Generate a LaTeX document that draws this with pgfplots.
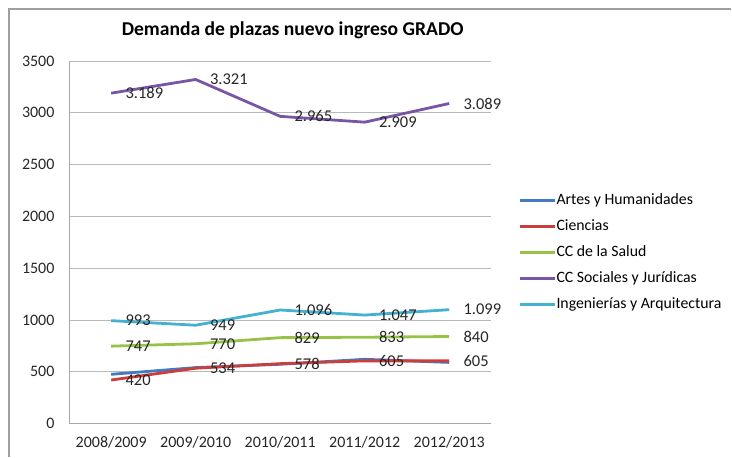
\documentclass[border=0pt]{standalone}
\usepackage{fontspec}
\setmainfont{Carlito}
\usepackage{pgfplots}
\pgfplotsset{compat=1.18}
\definecolor{cBlue}{RGB}{66,122,196}
\definecolor{cRed}{RGB}{204,62,60}
\definecolor{cGreen}{RGB}{150,195,70}
\definecolor{cPurple}{RGB}{120,86,165}
\definecolor{cCyan}{RGB}{68,176,210}
\begin{document}
\begin{tikzpicture}[x=1pt,y=1pt]
\path (0,0) rectangle (732,457);
\draw[gray!75, line width=1.6pt] (9,0) -- (9,448) -- (732,448);
\node[font=\fontsize{19.6}{23}\selectfont\bfseries] at (293,427) {Demanda de plazas nuevo ingreso GRADO};
\begin{axis}[
  at={(69pt,33pt)}, anchor=south west,
  width=423pt, height=363pt, scale only axis,
  xmin=-0.5, xmax=4.5, ymin=0, ymax=3500,
  axis x line=bottom, axis y line=left,
  axis line style={gray!70, line width=0.8pt, -},
  xtick={0,1,2,3,4},
  xticklabels={2008/2009,2009/2010,2010/2011,2011/2012,2012/2013},
  ytick={0,500,1000,1500,2000,2500,3000,3500},
  major tick length=0pt,
  ymajorgrids, grid style={gray!55, line width=0.7pt},
  /pgf/number format/assume math mode=true,
  /pgf/number format/1000 sep={},
  ticklabel style={font=\fontsize{16}{19}\selectfont, text=black!85},
  yticklabel style={xshift=-11pt},
  xticklabel style={yshift=-9pt},
  clip=false,
  every axis plot/.append style={line width=2.8pt},
  nodes near coords,
  point meta=explicit symbolic,
  every node near coord/.append style={anchor=west, inner sep=0pt, xshift=13pt, yshift=0pt, font=\fontsize{16.5}{19}\selectfont, text=black!85},
  legend style={at={(1.057,0.471)}, anchor=west, draw=none, fill=none,
    font=\fontsize{15.8}{18}\selectfont, row sep=12pt,
    nodes={inner sep=0pt, text height=10.5pt, text depth=3.5pt}},
  legend cell align=left,
  /tikz/every even column/.append style={column sep=2pt},
  legend image code/.code={\draw[#1, line width=2.8pt] (0pt,0pt) -- (35pt,0pt);},
]
\addplot[cBlue, nodes near coords={}] coordinates {(0,475) (1,540) (2,572) (3,620) (4,590)};
\addlegendentry{Artes y Humanidades}
\addplot[cRed] coordinates {(0,420)[420] (1,534)[534] (2,578)[578] (3,605)[605] (4,605)[605]};
\addlegendentry{Ciencias}
\addplot[cGreen] coordinates {(0,747)[747] (1,770)[770] (2,829)[829] (3,833)[833] (4,840)[840]};
\addlegendentry{CC de la Salud}
\addplot[cPurple] coordinates {(0,3189)[3.189] (1,3321)[3.321] (2,2965)[2.965] (3,2909)[2.909] (4,3089)[3.089]};
\addlegendentry{CC Sociales y Jurídicas}
\addplot[cCyan] coordinates {(0,993)[993] (1,949)[949] (2,1096)[1.096] (3,1047)[1.047] (4,1099)[1.099]};
\addlegendentry{Ingenierías y Arquitectura}
\end{axis}
\end{tikzpicture}
\end{document}
